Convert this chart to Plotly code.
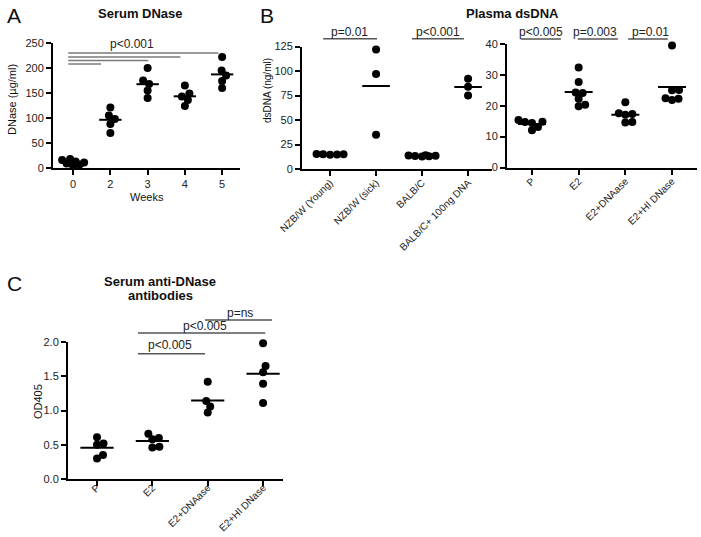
import plotly.graph_objects as go

W, H = 701, 537
FONT = "Liberation Sans, Arial, sans-serif"

# ---------------- data ----------------
# Panel A: Serum DNase (ug/ml) by week
weeks = ["0", "2", "3", "4", "5"]
dnase_wk0 = [18, 16, 13, 11, 9, 7, 4]
dnase_wk2 = [105, 121, 98, 88, 70]
dnase_wk3 = [175, 200, 168, 155, 140]
dnase_wk4 = [165, 143, 149, 136, 124]
dnase_wk5 = [195, 222, 185, 174, 160]

# Panel B left: Plasma dsDNA (ng/ml)
mice_groups = ["NZB/W (Young)", "NZB/W (sick)", "BALB/C", "BALB/C+ 100ng DNA"]
dsdna_young = [15.0, 14.6, 15.3, 14.8, 15.1]
dsdna_sick = [122, 97, 35]
dsdna_balbc = [13.5, 13.0, 14.0, 13.2, 13.8, 12.8]
dsdna_balbc_dna = [92, 75, 84]

# Panel B right: Plasma dsDNA (ng/ml)
treat_groups = ["P", "E2", "E2+DNAase", "E2+HI DNase"]
dsdna_p = [14.4, 15.4, 14.8, 12.1, 14.7, 13.1]
dsdna_e2 = [32.4, 27.7, 24.3, 24.1, 22.3, 19.8, 20.3]
dsdna_e2_dnase = [21.1, 17.6, 17.1, 17.3, 14.6, 14.7]
dsdna_e2_hi = [39.5, 25.0, 25.1, 22.3, 21.9, 22.4]

# Panel C: Serum anti-DNase antibodies (OD405)
od_p = [0.52, 0.50, 0.61, 0.30, 0.35]
od_e2 = [0.60, 0.58, 0.66, 0.46, 0.47]
od_e2_dnase = [1.42, 1.14, 1.06, 0.97]
od_e2_hi = [1.98, 1.65, 1.56, 1.39, 1.11]

# significance brackets: (x0, x1, y) and labels (x, y, text)
sig_a = [(-0.13, 3.90, 230), (-0.13, 2.88, 222), (-0.13, 2.02, 215), (-0.13, 0.75, 208)]
sig_a_text = [(1.59, 248, "p<0.001")]
sig_bl = [(-0.15, 1.02, 133), (1.78, 2.91, 133)]
sig_bl_text = [(0.43, 139.5, "p=0.01"), (2.35, 139.5, "p<0.001")]
sig_br = [(-0.24, 0.62, 41.6), (0.98, 1.84, 41.6), (2.06, 2.91, 41.6)]
sig_br_text = [(0.19, 43.8, "p<0.005"), (1.35, 43.8, "p=0.003"), (2.53, 43.8, "p=0.01")]
sig_c = [(0.74, 1.95, 1.83), (0.74, 3.04, 2.13), (1.95, 3.16, 2.32)]
sig_c_text = [(1.32, 1.96, "p<0.005"), (1.95, 2.23, "p<0.005"), (2.59, 2.43, "p=ns")]


def px_to_paper_x(px):
    return px / W


def px_to_paper_y(py):
    return 1 - py / H


panels = [
    dict(cats=weeks, groups=[dnase_wk0, dnase_wk2, dnase_wk3, dnase_wk4, dnase_wk5],
         xdom=(53, 240), ydom=(168, 43), xr=(-0.54, 4.48), yr=(0, 250), dtick=50, fmt="",
         tickangle=0, tickfont=11, standoff=0, sig=sig_a, sigtext=sig_a_text, sigcolor="#7a7a7a"),
    dict(cats=mice_groups, groups=[dsdna_young, dsdna_sick, dsdna_balbc, dsdna_balbc_dna],
         xdom=(302, 492), ydom=(169, 46.5), xr=(-0.61, 3.52), yr=(0, 125), dtick=25, fmt="",
         tickangle=-45, tickfont=10, standoff=-3, sig=sig_bl, sigtext=sig_bl_text, sigcolor="#555555"),
    dict(cats=treat_groups, groups=[dsdna_p, dsdna_e2, dsdna_e2_dnase, dsdna_e2_hi],
         xdom=(507, 697), ydom=(167.5, 44), xr=(-0.535, 3.535), yr=(0, 40), dtick=10, fmt="",
         tickangle=-45, tickfont=10, standoff=-3, sig=sig_br, sigtext=sig_br_text, sigcolor="#555555"),
    dict(cats=treat_groups, groups=[od_p, od_e2, od_e2_dnase, od_e2_hi],
         xdom=(68, 283), ydom=(479, 342), xr=(-0.524, 3.36), yr=(0, 2.0), dtick=0.5, fmt=".1f",
         tickangle=-45, tickfont=10, standoff=-8, sig=sig_c, sigtext=sig_c_text, sigcolor="#555555"),
]


def swarm(values, ppu, ppc, diam=6.6, maxw=0.3):
    """Simple beeswarm: returns horizontal offsets in category units."""
    n = len(values)
    order = sorted(range(n), key=lambda i: values[i])
    placed = []
    offs = [0.0] * n
    lim = maxw * ppc
    cands = [0.0]
    k = 1
    while k * 0.5 <= lim:
        cands += [k * 0.5, -k * 0.5]
        k += 1
    for i in order:
        y = values[i] * ppu
        best, bestd, fallback = None, -1, 0.0
        for c in cands:
            d = min([((c - px) ** 2 + (y - py) ** 2) ** 0.5 for px, py in placed] or [1e9])
            if d >= diam:
                best = c
                break
            if d > bestd:
                bestd, fallback = d, c
        if best is None:
            best = fallback
        placed.append((best, y))
        offs[i] = best / ppc
    return offs


fig = go.Figure()
layout = dict(width=W, height=H, margin=dict(l=0, r=0, t=0, b=0, pad=0), autosize=False,
              plot_bgcolor="white", paper_bgcolor="white", showlegend=False,
              font=dict(family=FONT, color="#222"))
shapes = []
annotations = []

for k, p in enumerate(panels):
    sfx = "" if k == 0 else str(k + 1)
    xa, ya = "xaxis" + sfx, "yaxis" + sfx
    xref, yref = "x" + sfx, "y" + sfx
    xd = [px_to_paper_x(p["xdom"][0]), px_to_paper_x(p["xdom"][1])]
    yd = [px_to_paper_y(p["ydom"][0]), px_to_paper_y(p["ydom"][1])]
    ppc = (p["xdom"][1] - p["xdom"][0]) / (p["xr"][1] - p["xr"][0])
    ppu = (p["ydom"][0] - p["ydom"][1]) / (p["yr"][1] - p["yr"][0])

    xs, ys, mx, my = [], [], [], []
    for gi, vals in enumerate(p["groups"]):
        offs = swarm(vals, ppu, ppc)
        xs += [gi + o for o in offs]
        ys += list(vals)
        m = sum(vals) / len(vals)
        mx += [gi - 0.3, gi + 0.3, None]
        my += [m, m, None]
    fig.add_trace(go.Scatter(x=mx, y=my, mode="lines", line=dict(color="black", width=2),
                             xaxis=xref, yaxis=yref, hoverinfo="skip", cliponaxis=False))
    fig.add_trace(go.Scatter(x=xs, y=ys, mode="markers", marker=dict(color="black", size=8),
                             xaxis=xref, yaxis=yref, cliponaxis=False))

    layout[xa] = dict(domain=xd, range=list(p["xr"]), anchor=yref, tickmode="array",
                      tickvals=list(range(len(p["cats"]))), ticktext=p["cats"],
                      tickangle=p["tickangle"], showline=True, linecolor="black", linewidth=2,
                      ticks="outside", ticklen=5, tickwidth=1.5, tickcolor="black",
                      showgrid=False, zeroline=False, ticklabelstandoff=p["standoff"],
                      automargin=False,
                      tickfont=dict(size=p["tickfont"], family=FONT, color="#222"))
    layout[ya] = dict(domain=yd, range=list(p["yr"]), anchor=xref, dtick=p["dtick"],
                      tick0=0, tickformat=p["fmt"], showline=True, linecolor="black",
                      linewidth=2, ticks="outside", ticklen=5, tickwidth=1.5,
                      tickcolor="black", showgrid=False, zeroline=False, automargin=False,
                      tickfont=dict(size=11, family=FONT, color="#222"))

    fx = lambda v, p=p: (v - p["xr"][0]) / (p["xr"][1] - p["xr"][0])
    fy = lambda v, p=p: (v - p["yr"][0]) / (p["yr"][1] - p["yr"][0])
    # significance lines/labels placed relative to the axis domain so they are not clipped
    for x0, x1, yv in p["sig"]:
        shapes.append(dict(type="line", xref=xref + " domain", yref=yref + " domain",
                           x0=fx(x0), x1=fx(x1), y0=fy(yv), y1=fy(yv),
                           line=dict(color=p["sigcolor"], width=1.5)))
    for tx, ty, t in p["sigtext"]:
        annotations.append(dict(x=fx(tx), y=fy(ty), xref=xref + " domain", yref=yref + " domain",
                                text=t, showarrow=False, xanchor="center", yanchor="middle",
                                font=dict(size=12, family=FONT, color="#222")))


def ann(x, y, text, size=11, angle=0, bold=False):
    annotations.append(dict(x=px_to_paper_x(x), y=px_to_paper_y(y), xref="paper", yref="paper",
                            text=("<b>%s</b>" % text) if bold else text, showarrow=False,
                            textangle=angle, xanchor="center", yanchor="middle",
                            font=dict(size=size, family=FONT, color="#111")))


# panel letters
ann(14, 16, "A", size=21)
ann(267, 16, "B", size=21)
ann(14, 283, "C", size=21)
# titles
ann(140, 13, "Serum DNase", size=13, bold=True)
ann(512, 13, "Plasma dsDNA", size=13, bold=True)
ann(160, 281, "Serum anti-DNase", size=13, bold=True)
ann(160, 295, "antibodies", size=13, bold=True)
# axis titles
ann(12, 100, "DNase (µg/ml)", size=11, angle=-90)
ann(147, 197, "Weeks", size=11)
ann(267, 91, "dsDNA (ng/ml)", size=10, angle=-90)
ann(38, 402, "OD405", size=11, angle=-90)

layout["shapes"] = shapes
layout["annotations"] = annotations
fig.update_layout(**layout)
fig.write_html("out.html", config={"displayModeBar": False},
               post_script="document.body.style.margin='0';document.body.style.padding='0';"
                           "document.body.style.overflow='hidden';")
